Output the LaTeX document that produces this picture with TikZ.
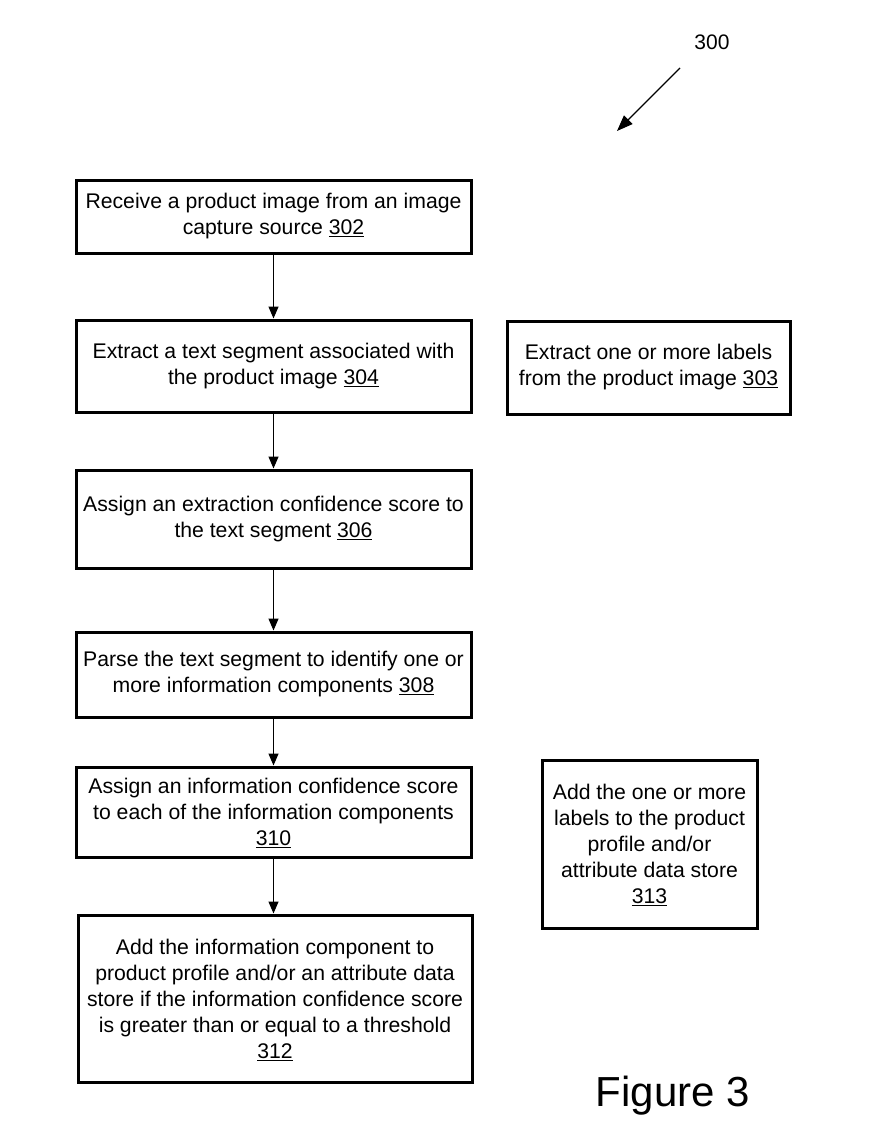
\documentclass[tikz,border=0pt]{standalone}
\usepackage{fontspec}
\setmainfont{Liberation Sans}
\usetikzlibrary{arrows.meta}
\newcommand{\refnum}[1]{\raisebox{0pt}[\height][0pt]{\underline{#1}}}
\begin{document}
\begin{tikzpicture}[x=1pt,y=-1pt,
 stepbox/.style={draw, line width=3pt, inner sep=0pt, align=center, font=\fontsize{21.2}{26}\selectfont},
 flow/.style={-{Triangle[length=12pt,width=10pt]}, line width=1.3pt},
 refarrow/.style={-{Triangle[length=16pt,width=12pt]}, line width=1.2pt}]
\useasboundingbox (0,0) rectangle (887,1141);
\node[stepbox, minimum width=395, minimum height=73] (b302) at (273.5,216.5) {Receive a product image from an image\\capture source \refnum{302}};
\node[stepbox, minimum width=395, minimum height=92] (b304) at (273.5,366) {Extract a text segment associated with\\the product image \refnum{304}};
\node[stepbox, minimum width=283, minimum height=93] (b303) at (648.5,367.5) {Extract one or more labels\\from the product image \refnum{303}};
\node[stepbox, minimum width=395, minimum height=98] (b306) at (273.5,519) {Assign an extraction confidence score to\\the text segment \refnum{306}};
\node[stepbox, minimum width=395, minimum height=85] (b308) at (273.5,674.5) {Parse the text segment to identify one or\\more information components \refnum{308}};
\node[stepbox, minimum width=395, minimum height=90] (b310) at (273.5,812) {Assign an information confidence score\\to each of the information components\\\refnum{310}};
\node[stepbox, minimum width=215, minimum height=168] (b313) at (649.5,844) {Add the one or more\\labels to the product\\profile and/or\\attribute data store\\\refnum{313}};
\node[stepbox, minimum width=394, minimum height=167] (b312) at (275,998.5) {Add the information component to\\product profile and/or an attribute data\\store if the information confidence score\\is greater than or equal to a threshold\\\refnum{312}};
\draw[flow] (b302.south) -- (b304.north);
\draw[flow] (b304.south) -- (b306.north);
\draw[flow] (b306.south) -- (b308.north);
\draw[flow] (b308.south) -- (b310.north);
\draw[flow] (b310.south) -- (b312.north -| b310.south);
\node[font=\fontsize{21}{25}\selectfont] (lbl300) at (712,42) {300};
\coordinate (s300) at (680,68);
\coordinate (e300) at (617,131);
\draw[refarrow] (s300) -- (e300);
\node[font=\fontsize{42}{50}\selectfont] (fig) at (673,1096) {Figure 3};
\end{tikzpicture}
\end{document}
